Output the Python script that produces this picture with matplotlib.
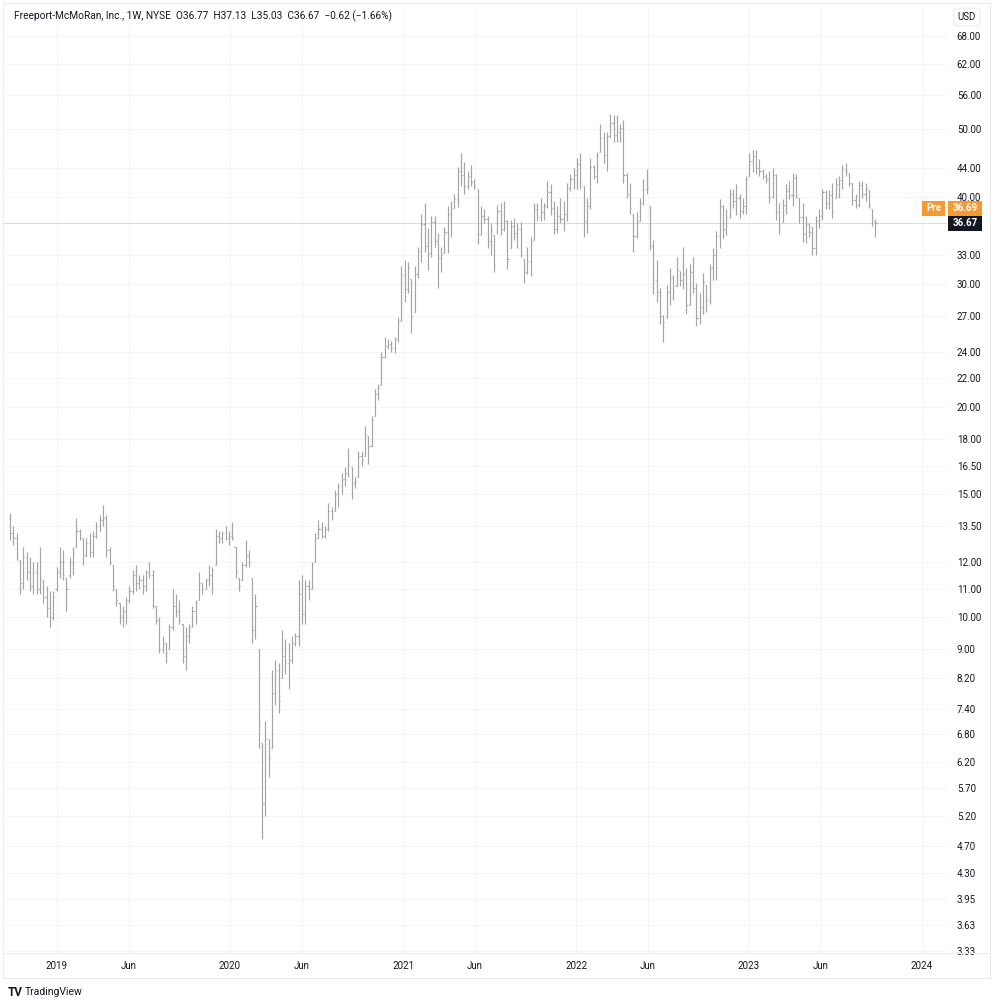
import numpy as np
import pandas as pd
import matplotlib
matplotlib.use("Agg")
import matplotlib.pyplot as plt
import matplotlib.dates as mdates
from matplotlib.patches import Rectangle
from matplotlib.lines import Line2D
from matplotlib.ticker import FixedLocator, NullLocator

# figure size in pixels ==========================================
W, H = 1000, 1008
FONT = ["Roboto", "DejaVu Sans"]
plt.rcParams["font.family"] = FONT

# data ===========================================================
# weekly OHLC bars (FCX, 1W)
week_start = "2018-09-24"

bar_open = [
    13.9, 13.2, 13.0, 12.1, 11.2, 12.2, 11.6, 11.1, 11.6, 11.0,
    11.3, 10.7, 10.3, 10.0, 11.0, 11.6, 12.0, 11.4, 11.5, 12.0,
    12.6, 13.3, 13.0, 12.3, 12.8, 12.4, 13.1, 13.5, 13.8, 13.9,
    12.5, 11.9, 11.0, 10.5, 10.0, 10.2, 10.6, 10.9, 11.5, 11.2,
    11.3, 11.1, 11.6, 11.5, 10.4, 9.9, 9.0, 9.2, 9.0, 9.7,
    10.4, 10.2, 9.8, 8.8, 9.4, 9.7, 10.2, 10.6, 11.2, 11.0,
    11.3, 11.5, 11.9, 13.1, 13.0, 13.2, 13.0, 13.1, 12.6, 11.4,
    11.3, 11.9, 12.3, 11.4, 9.6, 9.0, 6.6, 5.4, 6.7, 6.5,
    7.8, 8.4, 8.2, 8.8, 8.6, 8.7, 9.2, 9.4, 10.8, 10.1,
    11.1, 11.0, 12.0, 13.0, 13.4, 13.1, 13.4, 14.2, 14.2, 15.0,
    15.4, 15.8, 16.1, 16.4, 15.6, 15.9, 17.0, 17.0, 18.2, 17.6,
    19.4, 20.9, 21.5, 23.6, 24.5, 24.6, 24.3, 25.0, 26.6, 30.9,
    29.5, 30.5, 27.4, 31.0, 33.5, 36.6, 34.0, 33.2, 36.8, 34.6,
    32.7, 33.3, 35.6, 37.8, 38.6, 39.7, 43.5, 43.0, 41.4, 42.8,
    42.0, 41.1, 35.4, 37.5, 37.2, 34.6, 35.3, 35.5, 38.2, 36.0,
    37.0, 33.8, 36.4, 35.5, 36.0, 32.6, 31.2, 32.4, 34.7, 38.4,
    37.4, 38.0, 38.8, 40.6, 38.5, 36.0, 37.6, 37.2, 37.8, 41.2,
    42.4, 43.0, 44.6, 41.5, 37.0, 38.8, 44.2, 42.8, 46.4, 48.6,
    46.0, 48.9, 51.0, 49.0, 49.5, 50.2, 43.0, 40.4, 37.8, 35.2,
    36.9, 39.2, 41.0, 38.8, 34.0, 30.4, 29.2, 27.0, 26.8, 29.2,
    30.6, 29.8, 31.3, 30.4, 31.0, 28.0, 31.2, 29.6, 26.8, 27.8,
    29.9, 28.5, 31.6, 33.0, 35.2, 38.8, 36.0, 37.4, 40.4, 39.4,
    39.8, 38.2, 38.8, 42.9, 45.0, 45.8, 44.0, 43.5, 42.8, 42.4,
    40.0, 43.0, 38.0, 36.8, 38.9, 40.8, 40.2, 42.6, 39.8, 37.4,
    35.4, 36.6, 35.6, 33.8, 37.0, 37.6, 40.6, 39.2, 40.2, 39.8,
    41.8, 42.3, 43.8, 43.3, 41.9, 39.6, 39.0, 41.6, 40.4, 40.9,
    38.4, 36.77,
]
bar_high = [
    14.1, 13.5, 13.2, 12.1, 12.6, 12.4, 12.2, 12.0, 12.0, 12.6,
    11.3, 11.1, 10.9, 10.9, 11.8, 12.6, 12.5, 11.4, 12.2, 12.6,
    13.9, 13.4, 13.0, 13.0, 13.2, 13.3, 13.7, 14.0, 14.5, 14.0,
    12.6, 11.9, 11.0, 10.5, 10.4, 10.7, 11.1, 11.7, 11.9, 11.5,
    11.5, 11.7, 12.0, 11.7, 10.4, 10.0, 9.4, 9.2, 9.8, 11.0,
    10.8, 10.6, 9.8, 9.7, 9.8, 10.4, 10.6, 11.6, 11.2, 11.4,
    11.9, 11.8, 13.4, 13.3, 13.3, 13.5, 13.3, 13.7, 12.6, 11.4,
    12.0, 12.9, 12.5, 11.4, 10.8, 9.0, 6.6, 7.1, 6.7, 8.4,
    8.7, 8.6, 9.6, 9.3, 9.2, 9.4, 9.5, 11.3, 11.5, 11.3,
    11.3, 12.0, 13.2, 13.8, 13.7, 13.5, 14.6, 14.4, 15.2, 15.6,
    16.1, 16.4, 17.5, 16.4, 15.9, 17.3, 17.3, 18.8, 18.2, 19.4,
    21.2, 21.6, 24.0, 25.2, 25.0, 24.9, 25.2, 26.9, 31.8, 32.5,
    32.3, 30.5, 31.8, 33.9, 37.8, 39.2, 36.1, 37.5, 37.5, 35.5,
    33.9, 36.2, 38.8, 39.5, 40.4, 44.1, 46.2, 44.9, 43.5, 44.4,
    42.4, 41.1, 38.8, 38.4, 37.5, 36.7, 35.3, 39.0, 39.2, 39.5,
    37.1, 37.1, 37.3, 36.7, 36.8, 32.6, 33.9, 35.0, 39.2, 39.2,
    39.8, 39.2, 42.1, 41.7, 39.5, 38.8, 39.8, 39.5, 41.9, 43.2,
    44.0, 45.5, 46.2, 41.5, 39.9, 45.5, 44.4, 46.4, 50.9, 49.6,
    49.6, 52.5, 52.4, 52.4, 50.9, 51.6, 43.3, 41.9, 37.8, 38.1,
    39.9, 42.4, 43.8, 38.8, 34.7, 32.5, 29.6, 27.1, 29.9, 31.6,
    30.9, 32.8, 31.3, 33.9, 31.6, 32.1, 32.8, 30.1, 29.1, 31.1,
    29.9, 32.1, 33.8, 35.8, 39.7, 39.0, 38.4, 41.1, 41.1, 41.7,
    40.4, 39.8, 42.9, 46.2, 46.7, 46.7, 45.3, 43.8, 43.1, 43.5,
    44.0, 43.1, 39.2, 39.7, 41.7, 42.1, 43.3, 43.1, 39.8, 39.2,
    37.5, 36.7, 36.4, 37.5, 38.4, 41.1, 40.9, 40.9, 41.9, 42.6,
    42.9, 44.4, 44.8, 43.3, 41.9, 40.4, 42.1, 42.1, 41.9, 40.9,
    38.4, 37.13,
]
bar_low = [
    12.9, 12.7, 12.1, 10.8, 11.0, 11.3, 10.9, 10.8, 10.8, 10.8,
    10.5, 10.0, 9.7, 9.9, 10.9, 11.4, 11.3, 10.2, 11.4, 11.5,
    12.6, 12.9, 11.9, 12.2, 12.2, 12.2, 13.0, 13.3, 13.5, 12.2,
    11.9, 10.9, 10.4, 9.8, 9.7, 9.8, 10.5, 10.8, 10.9, 11.0,
    10.8, 10.9, 11.4, 10.3, 9.8, 8.9, 8.9, 8.6, 9.0, 9.6,
    10.0, 9.8, 8.6, 8.4, 9.2, 9.7, 9.8, 10.6, 10.8, 11.0,
    11.1, 10.8, 11.9, 12.8, 12.8, 12.9, 12.7, 12.9, 11.4, 10.9,
    11.3, 11.8, 11.8, 9.2, 9.3, 6.5, 4.82, 5.2, 5.9, 6.5,
    7.5, 7.3, 8.2, 8.3, 7.9, 8.6, 9.1, 9.1, 9.8, 9.8,
    10.6, 11.0, 12.0, 13.0, 13.0, 13.0, 13.3, 13.8, 14.2, 14.4,
    15.0, 15.4, 15.9, 14.8, 15.3, 15.9, 16.5, 17.0, 16.6, 17.6,
    19.4, 20.5, 21.5, 23.5, 24.2, 24.0, 23.9, 24.8, 26.6, 28.3,
    29.1, 25.5, 27.4, 30.6, 32.3, 33.4, 31.4, 32.8, 33.9, 29.6,
    31.2, 33.3, 33.3, 35.0, 38.6, 38.7, 41.5, 40.4, 41.1, 41.5,
    41.1, 34.2, 35.3, 36.7, 33.8, 33.0, 31.2, 35.5, 35.3, 35.8,
    31.5, 33.8, 34.7, 33.8, 32.8, 30.1, 31.0, 30.8, 34.7, 36.9,
    36.9, 37.1, 38.6, 37.7, 35.4, 35.5, 36.7, 35.8, 36.9, 40.8,
    41.1, 41.1, 41.1, 35.0, 35.5, 38.4, 42.4, 41.9, 46.4, 44.8,
    43.5, 48.5, 48.0, 48.0, 48.0, 41.9, 39.9, 37.8, 33.4, 34.9,
    36.9, 38.9, 40.4, 33.6, 29.0, 28.3, 26.3, 24.8, 26.8, 28.0,
    28.5, 29.8, 29.8, 29.5, 27.2, 28.0, 29.1, 26.1, 26.3, 27.2,
    27.4, 28.1, 30.4, 30.4, 33.8, 34.9, 35.3, 37.3, 38.6, 37.7,
    37.3, 37.8, 37.8, 42.9, 43.4, 43.1, 42.9, 42.4, 41.9, 39.2,
    39.9, 37.1, 35.4, 36.8, 37.8, 39.7, 38.8, 39.8, 36.7, 34.5,
    34.4, 35.0, 33.0, 33.0, 36.1, 37.1, 38.4, 38.4, 37.3, 39.8,
    39.9, 41.1, 42.9, 41.5, 38.9, 38.6, 38.7, 39.8, 39.5, 38.6,
    36.4, 35.03,
]
bar_close = [
    13.2, 13.0, 12.2, 11.2, 12.2, 11.6, 11.1, 11.6, 11.0, 11.4,
    10.7, 10.3, 10.0, 10.7, 11.6, 12.0, 11.5, 11.0, 12.0, 12.4,
    13.3, 13.0, 12.3, 12.8, 12.4, 13.1, 13.5, 13.8, 13.9, 12.5,
    12.0, 11.1, 10.6, 10.0, 10.2, 10.6, 10.9, 11.5, 11.2, 11.3,
    11.1, 11.6, 11.5, 10.4, 9.9, 9.0, 9.2, 8.9, 9.7, 10.4,
    10.2, 9.9, 8.8, 9.4, 9.6, 10.2, 10.5, 11.2, 11.0, 11.3,
    11.5, 11.7, 13.1, 13.0, 13.2, 13.0, 13.1, 13.0, 11.6, 11.1,
    11.9, 12.3, 12.0, 9.6, 10.4, 7.0, 5.4, 6.7, 6.3, 7.8,
    8.4, 7.6, 8.8, 8.6, 8.7, 9.2, 9.4, 10.8, 10.1, 11.1,
    11.0, 11.9, 13.0, 13.4, 13.1, 13.4, 14.2, 14.0, 15.0, 15.4,
    15.8, 16.1, 16.6, 15.6, 15.7, 17.0, 16.8, 18.3, 17.6, 19.2,
    20.9, 21.3, 23.6, 24.5, 24.6, 24.3, 25.0, 26.6, 30.9, 29.5,
    31.6, 27.0, 31.0, 33.5, 36.6, 34.0, 33.2, 36.8, 34.6, 32.7,
    33.0, 35.6, 37.8, 38.4, 39.7, 43.5, 43.0, 41.4, 42.8, 42.0,
    41.5, 35.4, 37.5, 37.2, 34.6, 35.8, 32.0, 38.2, 36.0, 37.0,
    32.6, 36.4, 35.5, 36.0, 33.0, 31.2, 32.4, 34.5, 38.4, 37.4,
    38.0, 38.8, 40.6, 38.5, 36.0, 37.6, 37.2, 37.8, 41.2, 42.4,
    43.0, 44.6, 42.0, 37.0, 38.8, 44.2, 42.8, 45.8, 48.6, 46.0,
    48.9, 51.0, 49.0, 49.5, 50.2, 43.0, 40.4, 38.6, 35.2, 36.8,
    39.2, 41.0, 41.3, 34.0, 30.4, 29.2, 27.0, 26.5, 29.2, 30.6,
    29.3, 31.5, 30.4, 31.0, 28.0, 31.2, 29.6, 26.8, 27.8, 30.2,
    28.5, 31.6, 33.0, 35.2, 38.8, 36.0, 37.4, 40.4, 39.4, 39.8,
    38.2, 38.8, 42.4, 45.0, 45.8, 44.0, 43.5, 42.8, 42.4, 40.0,
    43.0, 38.0, 36.5, 38.9, 40.8, 40.2, 42.6, 40.1, 37.4, 35.4,
    36.6, 35.6, 33.8, 37.0, 37.6, 40.6, 39.2, 40.2, 38.0, 41.8,
    42.3, 43.8, 43.6, 41.9, 39.6, 39.0, 41.6, 40.4, 41.2, 38.8,
    37.29, 36.67,
]

pre_price = 36.69
header = ("Freeport-McMoRan, Inc., 1W, NYSE  O36.77  H37.13  L35.03  "
          "C36.67  \u22120.62 (\u22121.66%)")

price_ticks = [68.00, 62.00, 56.00, 50.00, 44.00, 40.00, 33.00, 30.00,
               27.00, 24.00, 22.00, 20.00, 18.00, 16.50, 15.00, 13.50,
               12.00, 11.00, 10.00, 9.00, 8.20, 7.40, 6.80, 6.20, 5.70,
               5.20, 4.70, 4.30, 3.95, 3.63, 3.33]
time_ticks = ["2019-01-01", "2019-06-01", "2020-01-01", "2020-06-01",
              "2021-01-01", "2021-06-01", "2022-01-01", "2022-06-01",
              "2023-01-01", "2023-06-01", "2024-01-01"]
time_labels = ["2019", "Jun", "2020", "Jun", "2021", "Jun", "2022", "Jun",
               "2023", "Jun", "2024"]
# ================================================================

BAR_COLOR = "#a4a4a8"
GRID_COLOR = "#f4f5f8"
TEXT_COLOR = "#131722"
BORDER = "#ececec"
ORANGE = "#f39a34"

dates = pd.date_range(week_start, periods=len(bar_close), freq="W-MON")
x = mdates.date2num(dates)

fig = plt.figure(figsize=(W / 100, H / 100), dpi=100)
fig.patch.set_facecolor("white")

# plot panel: pixels x 3..947, y 5..953
ax = fig.add_axes([3 / W, 1 - 953 / H, 944 / W, 948 / H])
ax.set_yscale("log")

# OHLC bars
half = 2.3  # days
ax.vlines(x, bar_low, bar_high, color=BAR_COLOR, lw=0.85, zorder=3)
ax.hlines(bar_open, x - half, x, color=BAR_COLOR, lw=0.85, zorder=3)
ax.hlines(bar_close, x, x + half, color=BAR_COLOR, lw=0.85, zorder=3)

# last price line
ax.axhline(bar_close[-1], color="#dadbdf", lw=0.7, zorder=2)

x0 = mdates.date2num(pd.Timestamp("2019-01-01")) - 114
x1 = mdates.date2num(pd.Timestamp("2024-01-01")) + 53
ax.set_xlim(x0, x1)
ax.set_ylim(3.308, 75.3)

# price scale
ax.yaxis.tick_right()
ax.yaxis.set_major_locator(FixedLocator(price_ticks))
ax.yaxis.set_minor_locator(NullLocator())
ax.set_yticklabels([f"{v:.2f}" for v in price_ticks])
ax.tick_params(axis="y", which="both", length=0, pad=7, labelsize=7,
               labelcolor=TEXT_COLOR)

# time scale
tick_x = mdates.date2num(pd.to_datetime(time_ticks))
ax.set_xticks(tick_x)
ax.set_xticklabels(time_labels)
ax.tick_params(axis="x", length=0, pad=6, labelsize=7, labelcolor=TEXT_COLOR)

ax.grid(True, color=GRID_COLOR, lw=0.8, zorder=0)
for sp in ax.spines.values():
    sp.set_visible(False)


def fx(px):
    return px / W


def fy(py):
    return 1 - py / H


# frame lines
for (xa, ya, xb, yb) in [(3, 3, 990, 3), (3, 953, 990, 953), (3, 978, 990, 978),
                         (3, 3, 3, 978), (990, 3, 990, 978)]:
    fig.add_artist(Line2D([fx(xa), fx(xb)], [fy(ya), fy(yb)], color=BORDER,
                          lw=0.8, transform=fig.transFigure))

# header
fig.text(fx(14), fy(16), header, fontsize=7.3, color=TEXT_COLOR, va="center",
         ha="left")

# currency box
fig.text(fx(967), fy(17), "USD", fontsize=7, color=TEXT_COLOR, va="center",
         ha="center", bbox=dict(boxstyle="round,pad=0.4", fc="white",
                                ec=BORDER, lw=0.8))

# last price / pre-market labels
fig.canvas.draw()
y_last = ax.transData.transform((x0, bar_close[-1]))[1]  # display px from bottom
box_h = 15


def label_box(xl, xr, yc, fc, text, tc, bold=True):
    fig.add_artist(Rectangle((fx(xl), (yc - box_h / 2) / H), (xr - xl) / W,
                             box_h / H, transform=fig.transFigure, fc=fc,
                             ec="none", zorder=5))
    fig.text(fx((xl + xr) / 2), yc / H, text, fontsize=7, color=tc,
             ha="center", va="center", zorder=6,
             fontweight="bold" if bold else "normal")


label_box(948, 982, y_last, "#131722", f"{bar_close[-1]:.2f}", "white")
label_box(948, 982, y_last + box_h, ORANGE, f"{pre_price:.2f}", "white")
label_box(922, 945, y_last + box_h, ORANGE, "Pre", "white")

# logo
fig.text(fx(8), fy(992), "TV", fontsize=8.5, fontweight="bold",
         color=TEXT_COLOR, va="center", ha="left")
fig.text(fx(25), fy(992), "TradingView", fontsize=7.5, color=TEXT_COLOR,
         va="center", ha="left")

fig.savefig("out.png", dpi=100)
